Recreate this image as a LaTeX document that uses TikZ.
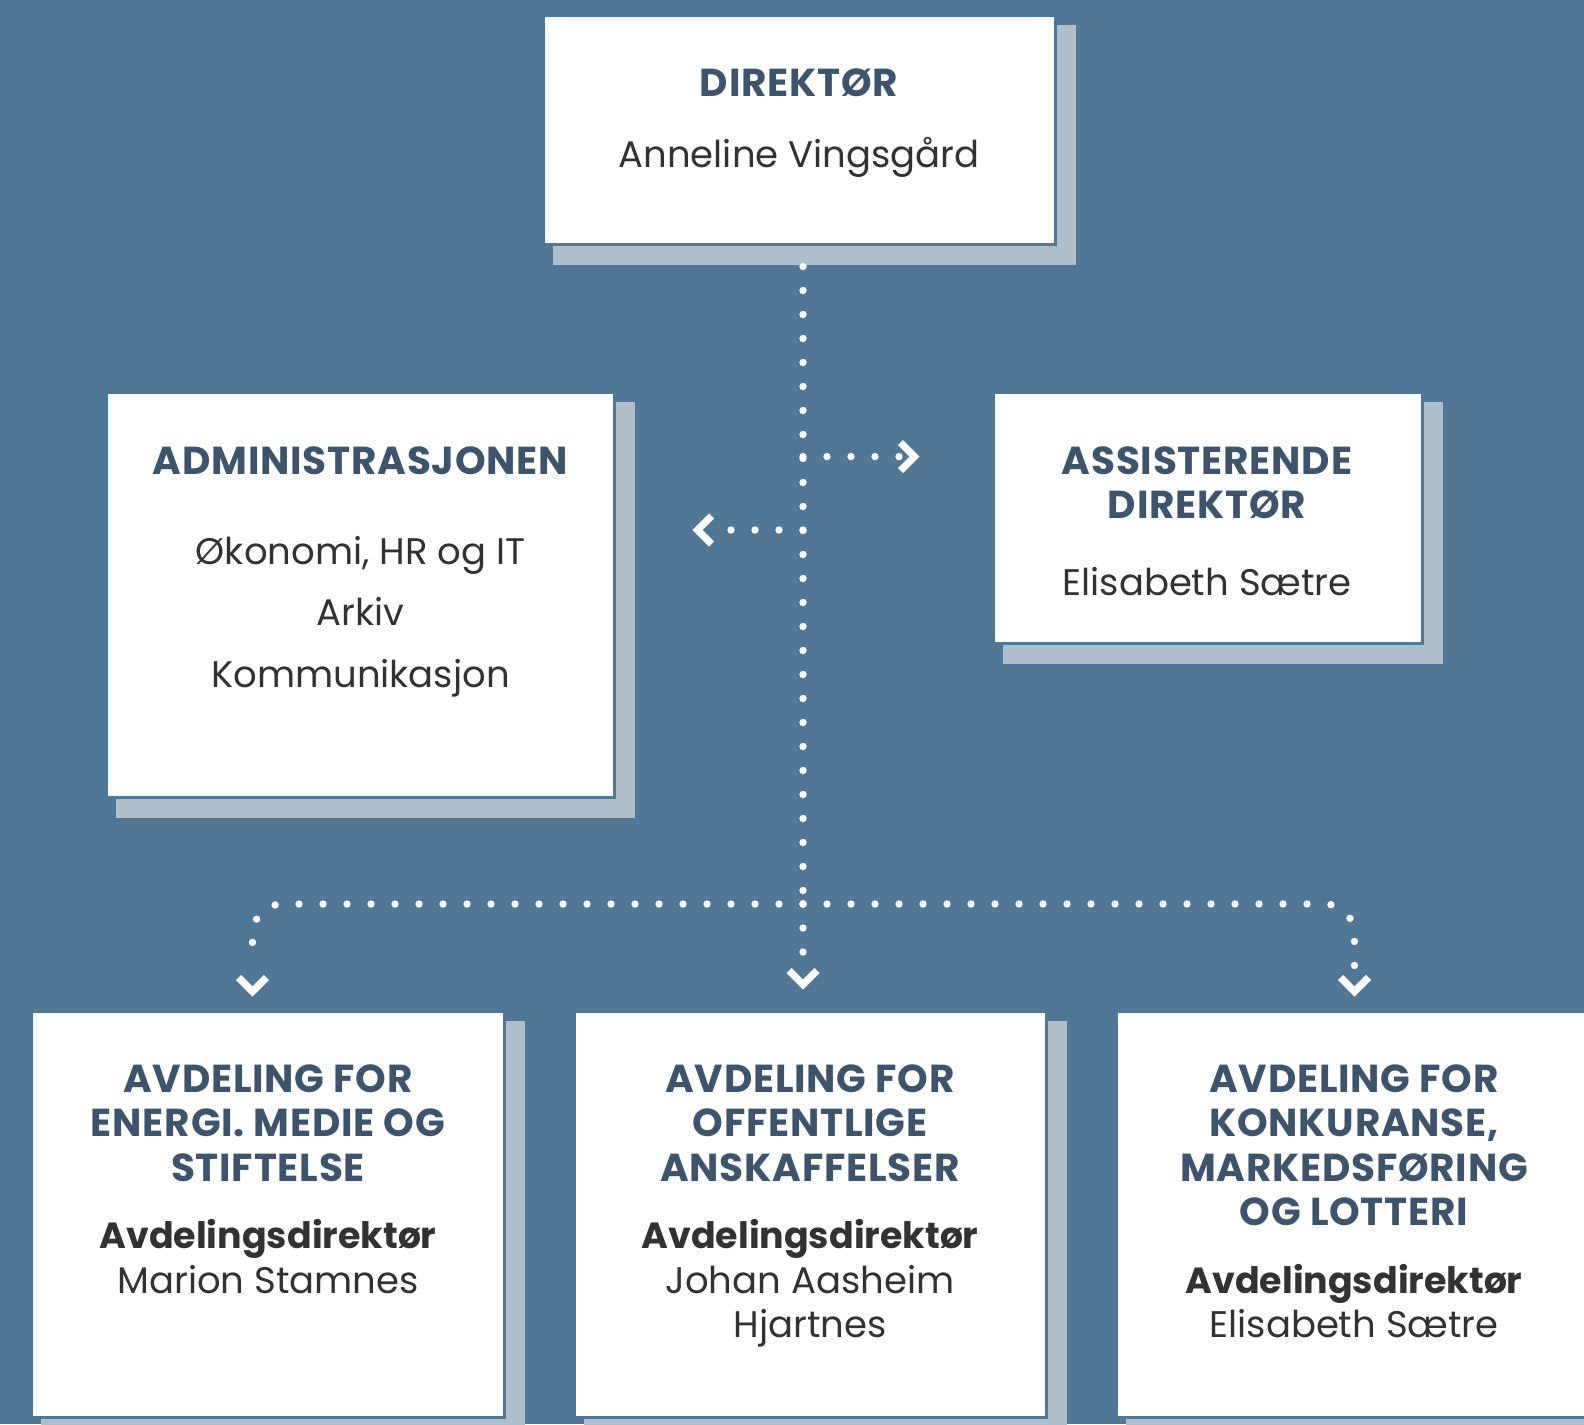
\documentclass[tikz,border=0pt]{standalone}
\usepackage{fontspec}
\setmainfont{Poppins}
\usetikzlibrary{calc}
\definecolor{bgc}{RGB}{80,120,150}
\definecolor{shc}{RGB}{174,190,202}
\definecolor{headc}{RGB}{62,84,108}
\definecolor{bodyc}{RGB}{50,50,50}
\tikzset{
  box/.style={fill=white, draw=bgc, line width=1.5pt, inner sep=0, rectangle},
  hd/.style={font=\bfseries\fontsize{19.5}{22}\selectfont\addfontfeatures{LetterSpace=2}, text=headc, anchor=base, inner sep=0},
  tx/.style={font=\fontsize{18.5}{22}\selectfont, text=bodyc, anchor=base, inner sep=0},
  tb/.style={font=\bfseries\fontsize{18.2}{22}\selectfont, text=bodyc, anchor=base, inner sep=0},
  dotline/.style={white, line width=3.7pt, line cap=round, dash pattern=on 0pt off 12pt},
  chevtip/.style={white, line width=3.6pt, miter limit=4, line join=miter, line cap=butt}
}
\newcommand{\shadowof}[1]{\fill[shc] ($(#1.north west)+(9,9)$) rectangle ($(#1.south east)+(20,20)$);}
\begin{document}
\begin{tikzpicture}[x=0.5pt,y=-0.5pt]
\useasboundingbox (0,0) rectangle (1584,1424);
\clip (0,0) rectangle (1584,1424);
\fill[bgc] (0,0) rectangle (1584,1424);

% boxes
\node[box, minimum width=254.5pt, minimum height=113pt] (dir) at (799.5,130) {};
\node[box, minimum width=252.5pt, minimum height=201pt] (adm) at (360.5,595) {};
\node[box, minimum width=213pt, minimum height=124pt] (ass) at (1208,518) {};
\node[box, minimum width=235pt, minimum height=201.5pt] (b1) at (268,1214.5) {};
\node[box, minimum width=234.5pt, minimum height=201.5pt] (b2) at (810.5,1214.5) {};
\node[box, minimum width=234.5pt, minimum height=201.5pt] (b3) at (1352.5,1214.5) {};

% shadows (drawn, then the boxes redrawn on top)
\shadowof{dir}\shadowof{adm}\shadowof{ass}\shadowof{b1}\shadowof{b2}\shadowof{b3}
\foreach \b in {dir,adm,ass,b1,b2,b3}{
  \draw[fill=white, draw=bgc, line width=1.5pt] (\b.north west) rectangle (\b.south east);
}

% texts
\node[hd] (dirh) at (799,96) {DIREKTØR};
\node[tx] (dirn) at (799,167) {Anneline Vingsgård};

\node[hd] (admh) at (360.5,474) {ADMINISTRASJONEN};
\node[tx] (adm1) at (360.5,564) {Økonomi, HR og IT};
\node[tx] (adm2) at (360.5,625) {Arkiv};
\node[tx] (adm3) at (360.5,687) {Kommunikasjon};

\node[hd] (assh1) at (1207,474) {ASSISTERENDE};
\node[hd] (assh2) at (1207,518) {DIREKTØR};
\node[tx] (assn) at (1207,595) {Elisabeth Sætre};

\node[hd] (b1h1) at (268,1092) {AVDELING FOR};
\node[hd] (b1h2) at (268,1136.5) {ENERGI. MEDIE OG};
\node[hd] (b1h3) at (268,1181) {STIFTELSE};
\node[tb] (b1t) at (268,1248) {Avdelingsdirektør};
\node[tx] (b1n) at (268,1293) {Marion Stamnes};

\node[hd] (b2h1) at (810,1092) {AVDELING FOR};
\node[hd] (b2h2) at (810,1136.5) {OFFENTLIGE};
\node[hd] (b2h3) at (810,1181) {ANSKAFFELSER};
\node[tb] (b2t) at (810,1248) {Avdelingsdirektør};
\node[tx] (b2n1) at (810,1293) {Johan Aasheim};
\node[tx] (b2n2) at (810,1337.5) {Hjartnes};

\node[hd] (b3h1) at (1354,1092) {AVDELING FOR};
\node[hd] (b3h2) at (1354,1136.5) {KONKURANSE,};
\node[hd] (b3h3) at (1354,1181) {MARKEDSFØRING};
\node[hd] (b3h4) at (1354,1225.5) {OG LOTTERI};
\node[tb] (b3t) at (1354,1293) {Avdelingsdirektør};
\node[tx] (b3n) at (1354,1337.5) {Elisabeth Sætre};

% connectors
\coordinate (j) at (803,904);
\coordinate (ra) at (803,456.6);
\coordinate (la) at (803,530);
\draw[dotline] (dir.south -| j) ++(0,22) -- (j);
% right: to assisterende
\draw[dotline] (ra) -- ($(ass.west |- ra)+(-92,0)$);
\draw[chevtip] ($(ass.west |- ra)+(-93,-14)$) -- ($(ass.west |- ra)+(-79,0)$) -- ($(ass.west |- ra)+(-93,14)$);
% left: to administrasjonen
\draw[dotline] (la) -- ($(adm.east |- la)+(96,0)$);
\draw[chevtip] ($(adm.east |- la)+(97,-14)$) -- ($(adm.east |- la)+(83,0)$) -- ($(adm.east |- la)+(97,14)$);
% middle down
\draw[dotline] (j) -- ($(b2.north -| j)+(0,-40)$);
\draw[chevtip] ($(b2.north -| j)+(-14,-41)$) -- ($(b2.north -| j)+(0,-27)$) -- ($(b2.north -| j)+(14,-41)$);
% left down
\draw[dotline, rounded corners=15pt] (j) -| ($(b1.north)+(-15.5,-46)$);
\draw[chevtip] ($(b1.north)+(-29.5,-34)$) -- ($(b1.north)+(-15.5,-20)$) -- ($(b1.north)+(-1.5,-34)$);
% right down
\draw[dotline, rounded corners=15pt] (j) -| ($(b3.north)+(2,-46)$);
\draw[chevtip] ($(b3.north)+(-12,-34)$) -- ($(b3.north)+(2,-20)$) -- ($(b3.north)+(16,-34)$);
\end{tikzpicture}
\end{document}
